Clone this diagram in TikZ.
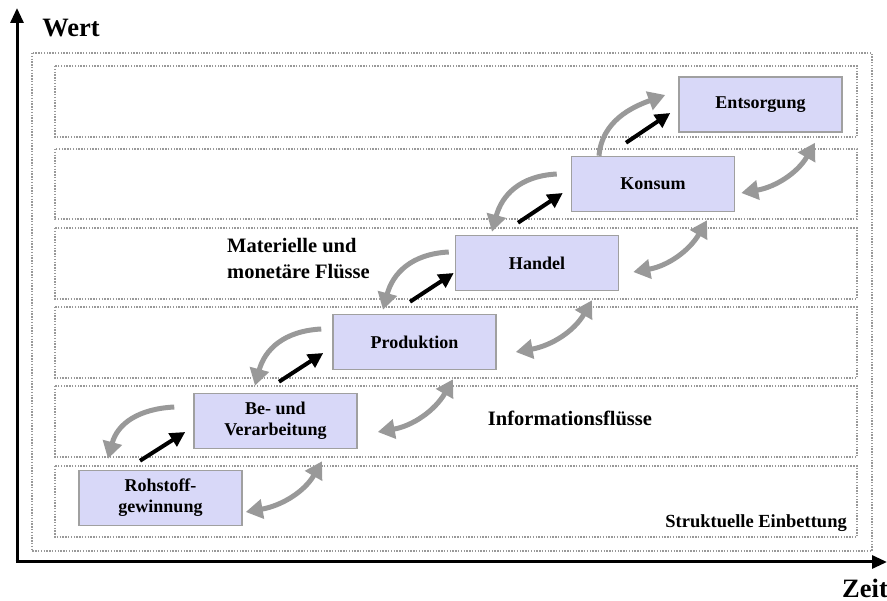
\documentclass[tikz,border=0pt]{standalone}
\usepackage{fontspec}
\setmainfont{Liberation Serif}
\usetikzlibrary{arrows.meta,calc}
\definecolor{boxfill}{HTML}{D8D8F8}
\definecolor{boxline}{HTML}{A0A0A0}
\definecolor{flowgray}{HTML}{999999}
\definecolor{dotgray}{HTML}{999999}
\begin{document}
\begin{tikzpicture}[x=1pt,y=1pt,
 stage/.style={draw=boxline, line width=1.5pt, fill=boxfill, minimum width=163pt, minimum height=55pt, inner sep=0pt, align=center, font=\fontsize{18}{21}\selectfont\bfseries},
 lane/.style={draw=dotgray, line width=1.8pt, dash pattern=on 1.4pt off 1.4pt},
 matflow/.style={draw=black, line width=4pt, -{Triangle[length=15pt,width=15pt]}},
 backflow/.style={draw=flowgray, line width=5pt, -{Triangle[length=17pt,width=19pt]}},
 infoflow/.style={draw=flowgray, line width=5pt, {Triangle[length=17pt,width=19pt]}-{Triangle[length=17pt,width=19pt]}},
 axis/.style={line width=3pt, -{Triangle[length=15pt,width=13pt]}},
 lbl/.style={inner sep=0pt, font=\fontsize{20.5}{26}\selectfont\bfseries},
 biglbl/.style={inner sep=0pt, font=\fontsize{26.5}{30}\selectfont\bfseries}
]
\useasboundingbox (0,0) rectangle (887,-601);

% structural frames
\draw[lane] (32,-53) rectangle (872,-551);
\draw[lane] (55,-66) rectangle (857,-137);
\draw[lane] (55,-149) rectangle (857,-219);
\draw[lane] (55,-228) rectangle (857,-299);
\draw[lane] (55,-307) rectangle (857,-378);
\draw[lane] (55,-386) rectangle (857,-457);
\draw[lane] (55,-466) rectangle (857,-537);

% axes
\coordinate (origin) at (17,-562);
\coordinate (ytip) at (17,-8);
\coordinate (xtip) at (887,-562);
\draw[axis] (origin) -- (ytip);
\draw[axis] ([xshift=-1.5pt]origin) -- (xtip);
\node[biglbl] (wert) at (71,-28) {Wert};
\node[biglbl] (zeit) at (865,-588) {Zeit};

% stages
\node[stage] (roh) at (160.5,-498) {Rohstoff-\\gewinnung};
\node[stage] (be) at (275.5,-421) {Be- und\\Verarbeitung};
\node[stage] (prod) at (414.5,-342) {Produktion};
\node[stage] (handel) at (537,-263) {Handel};
\node[stage] (konsum) at (653,-184) {Konsum};
\node[stage] (ents) at (760.5,-104.5) {Entsorgung};

% labels
\node[lbl, anchor=west, align=left] (mat) at (227,-259) {Materielle und\\monetäre Flüsse};
\node[lbl] (info) at (570,-418) {Informationsflüsse};
\node[inner sep=0pt, font=\fontsize{18.5}{20}\selectfont\bfseries, anchor=east] (struk) at (847,-523) {Struktuelle Einbettung};

% material flows (black)
\draw[matflow] ($(roh.north)+(-20.5,9)$) -- ($(be.west)+(-8,-11)$);
\draw[matflow] ($(be.north)+(3.5,11)$) -- ($(prod.west)+(-9,-11)$);
\draw[matflow] ($(prod.north)+(-4.5,12)$) -- ($(handel.west)+(-1,-10)$);
\draw[matflow] ($(handel.north)+(-19,12)$) -- ($(konsum.west)+(-8,-9)$);
\draw[matflow] ($(konsum.north)+(-27,13)$) -- ($(ents.west)+(-8,-8.5)$);

% backward gray flows
\draw[backflow] ($(be.west)+(-19,14)$) to[out=183,in=75,looseness=1.1] ($(roh.north)+(-52.5,11)$);
\draw[backflow] ($(prod.west)+(-11,13)$) to[out=183,in=75,looseness=1.1] ($(be.north)+(-20.5,7)$);
\draw[backflow] ($(handel.west)+(-6,11)$) to[out=183,in=75,looseness=1.1] ($(prod.north)+(-31.5,4)$);
\draw[backflow] ($(konsum.west)+(-14,10)$) to[out=183,in=75,looseness=1.1] ($(handel.north)+(-45,3)$);
\draw[backflow] ($(konsum.north)+(-54,0)$) to[out=85,in=200] ($(ents.west)+(-13,9.5)$);

% information flows (double)
\draw[infoflow] ($(roh.east)+(3,-14)$) to[out=10,in=240] ($(be.south)+(46.5,-12)$);
\draw[infoflow] ($(be.east)+(20,-11)$) to[out=10,in=240] ($(prod.south)+(38.5,-9)$);
\draw[infoflow] ($(prod.east)+(19,-10)$) to[out=10,in=240] ($(handel.south)+(55,-9)$);
\draw[infoflow] ($(handel.east)+(14,-9)$) to[out=10,in=240] ($(konsum.south)+(54,-8)$);
\draw[infoflow] ($(konsum.east)+(6,-9)$) to[out=10,in=240] ($(ents.south)+(54.5,-10)$);
\end{tikzpicture}
\end{document}
